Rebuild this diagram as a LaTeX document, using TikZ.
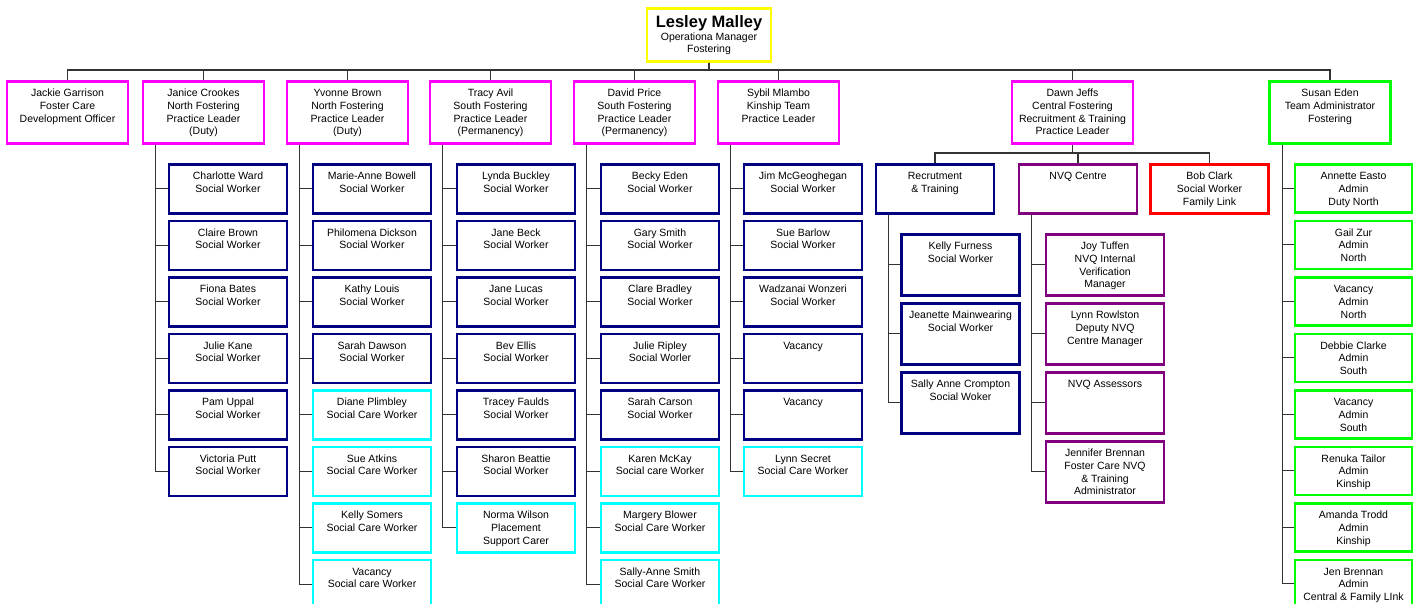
\documentclass[tikz,border=0pt]{standalone}
\usepackage{fontspec}
\setmainfont{Liberation Sans}
\usepackage{tikz}
\definecolor{boxnavy}{HTML}{000080}
\definecolor{boxcyan}{HTML}{00FFFF}
\definecolor{boxgreen}{HTML}{00FF00}
\definecolor{boxpurple}{HTML}{800080}
\definecolor{boxpink}{HTML}{FF00FF}
\definecolor{boxred}{HTML}{FF0000}
\definecolor{boxyellow}{HTML}{FFFF00}

\begin{document}
\begin{tikzpicture}
    [x=1pt,y=-1pt,
      card/.style 2 args={inner sep=0pt,line width=2.6pt,anchor=north,
        font=\fontsize{10.5}{12.7}\selectfont,
        execute at begin node={\vbox to #2\bgroup\hsize=#1\relax\centering\vskip 6.5pt\noindent\strut},
        execute at end node={\endgraf\vfil\egroup}},
      lead/.style={card={121pt}{62pt},draw=boxpink},
      staff/.style={card={118pt}{49pt},draw=boxnavy},
      carer/.style={staff,draw=boxcyan},
      admin/.style={card={117pt}{48pt},draw=boxgreen},
      team/.style={card={118pt}{61pt}},
      link/.style={line width=1.1pt,draw=black!80}]
      \useasboundingbox[fill=white] (0,0) rectangle (1418,603);
      \clip (0,0) rectangle (1418,603);

      \node[draw=boxyellow,line width=2.6pt,inner sep=0pt,anchor=north,
        minimum width=124pt,minimum height=53pt,align=center,
        font=\fontsize{10.5}{12.7}\selectfont] (malley) at (709,7)
        {{\fontsize{16.5}{18}\selectfont\bfseries Lesley Malley}\\[0.6pt]Operationa Manager\\[-1.1pt]Fostering};
      \coordinate (topbus) at (0,70);

      % practice leaders
      \node[lead] (garrison) at (67.5,80) {Jackie Garrison\\Foster Care\\Development Officer};
      \node[lead] (crookes) at (203.5,80) {Janice Crookes\\North Fostering\\Practice Leader\\(Duty)};
      \node[lead] (brown) at (347.5,80) {Yvonne Brown\\North Fostering\\Practice Leader\\(Duty)};
      \node[lead] (avil) at (490.5,80) {Tracy Avil\\South Fostering\\Practice Leader\\(Permanency)};
      \node[lead] (price) at (634.5,80) {David Price\\South Fostering\\Practice Leader\\(Permanency)};
      \node[lead] (mlambo) at (778.5,80) {Sybil Mlambo\\Kinship Team\\Practice Leader};
      \node[lead] (jeffs) at (1072.5,80) {Dawn Jeffs\\Central Fostering\\Recruitment \& Training\\Practice Leader};
      \node[lead,draw=boxgreen] (eden) at (1330,80) {Susan Eden\\Team Administrator\\Fostering};

      % north fostering (duty)
      \node[staff] (crookes1) at (228,163) {Charlotte Ward\\Social Worker};
      \node[staff] (crookes2) at (228,219.5) {Claire Brown\\Social Worker};
      \node[staff] (crookes3) at (228,276) {Fiona Bates\\Social Worker};
      \node[staff] (crookes4) at (228,332.5) {Julie Kane\\Social Worker};
      \node[staff] (crookes5) at (228,389) {Pam Uppal\\Social Worker};
      \node[staff] (crookes6) at (228,445.5) {Victoria Putt\\Social Worker};

      \node[staff] (brown1) at (372,163) {Marie-Anne Bowell\\Social Worker};
      \node[staff] (brown2) at (372,219.5) {Philomena Dickson\\Social Worker};
      \node[staff] (brown3) at (372,276) {Kathy Louis\\Social Worker};
      \node[staff] (brown4) at (372,332.5) {Sarah Dawson\\Social Worker};
      \node[carer] (brown5) at (372,389) {Diane Plimbley\\Social Care Worker};
      \node[carer] (brown6) at (372,445.5) {Sue Atkins\\Social Care Worker};
      \node[carer] (brown7) at (372,502) {Kelly Somers\\Social Care Worker};
      \node[carer] (brown8) at (372,558.5) {Vacancy\\Social care Worker};

      % south fostering (permanency)
      \node[staff] (avil1) at (516,163) {Lynda Buckley\\Social Worker};
      \node[staff] (avil2) at (516,219.5) {Jane Beck\\Social Worker};
      \node[staff] (avil3) at (516,276) {Jane Lucas\\Social Worker};
      \node[staff] (avil4) at (516,332.5) {Bev Ellis\\Social Worker};
      \node[staff] (avil5) at (516,389) {Tracey Faulds\\Social Worker};
      \node[staff] (avil6) at (516,445.5) {Sharon Beattie\\Social Worker};
      \node[carer] (avil7) at (516,502) {Norma Wilson\\Placement\\Support Carer};

      \node[staff] (price1) at (660,163) {Becky Eden\\Social Worker};
      \node[staff] (price2) at (660,219.5) {Gary Smith\\Social Worker};
      \node[staff] (price3) at (660,276) {Clare Bradley\\Social Worker};
      \node[staff] (price4) at (660,332.5) {Julie Ripley\\Social Worler};
      \node[staff] (price5) at (660,389) {Sarah Carson\\Social Worker};
      \node[carer] (price6) at (660,445.5) {Karen McKay\\Social care Worker};
      \node[carer] (price7) at (660,502) {Margery Blower\\Social Care Worker};
      \node[carer] (price8) at (660,558.5) {Sally-Anne Smith\\Social Care Worker};

      % kinship
      \node[staff] (mlambo1) at (803,163) {Jim McGeoghegan\\Social Worker};
      \node[staff] (mlambo2) at (803,219.5) {Sue Barlow\\Social Worker};
      \node[staff] (mlambo3) at (803,276) {Wadzanai Wonzeri\\Social Worker};
      \node[staff] (mlambo4) at (803,332.5) {Vacancy};
      \node[staff] (mlambo5) at (803,389) {Vacancy};
      \node[carer] (mlambo6) at (803,445.5) {Lynn Secret\\Social Care Worker};

      % central fostering
      \coordinate (jeffsbus) at (0,153);
      \node[staff] (recruit) at (935,163) {Recrutment\\\& Training};
      \node[staff,draw=boxpurple] (nvq) at (1078,163) {NVQ Centre};
      \node[staff,draw=boxred] (clark) at (1209.5,163) {Bob Clark\\Social Worker\\Family Link};

      \node[team,draw=boxnavy] (recruit1) at (960.5,233) {Kelly Furness\\Social Worker};
      \node[team,draw=boxnavy] (recruit2) at (960.5,302) {Jeanette Mainwearing\\Social Worker};
      \node[team,draw=boxnavy] (recruit3) at (960.5,371) {Sally Anne Crompton\\Social Woker};

      \node[team,draw=boxpurple] (nvq1) at (1105,233) {Joy Tuffen\\NVQ Internal\\Verification\\Manager};
      \node[team,draw=boxpurple] (nvq2) at (1105,302) {Lynn Rowlston\\Deputy NVQ\\Centre Manager};
      \node[team,draw=boxpurple] (nvq3) at (1105,371) {NVQ Assessors};
      \node[team,draw=boxpurple] (nvq4) at (1105,440) {Jennifer Brennan\\Foster Care NVQ\\\& Training\\Administrator};

      % administration
      \node[admin] (eden1) at (1353.5,163) {Annette Easto\\Admin\\Duty North};
      \node[admin] (eden2) at (1353.5,219.5) {Gail Zur\\Admin\\North};
      \node[admin] (eden3) at (1353.5,276) {Vacancy\\Admin\\North};
      \node[admin] (eden4) at (1353.5,332.5) {Debbie Clarke\\Admin\\South};
      \node[admin] (eden5) at (1353.5,389) {Vacancy\\Admin\\South};
      \node[admin] (eden6) at (1353.5,445.5) {Renuka Tailor\\Admin\\Kinship};
      \node[admin] (eden7) at (1353.5,502) {Amanda Trodd\\Admin\\Kinship};
      \node[admin] (eden8) at (1353.5,558.5) {Jen Brennan\\Admin\\Central \& Family LInk};

      \foreach \to in {garrison,crookes,brown,avil,price,mlambo,jeffs,eden}
	\draw[link] (malley.south) -- (malley.south |- topbus) -| (\to.north);
      \foreach \to in {recruit,nvq,clark}
	\draw[link] (jeffs.south) -- (jeffs.south |- jeffsbus) -| (\to.north);
      \foreach \from/\n in {crookes/6,brown/8,avil/7,price/8,mlambo/6,recruit/3,nvq/4,eden/8}
	\foreach \i in {1,...,\n}
	  \draw[link] ([xshift=14pt]\from.south west) |- (\from\i.west);

    \end{tikzpicture}
\end{document}
